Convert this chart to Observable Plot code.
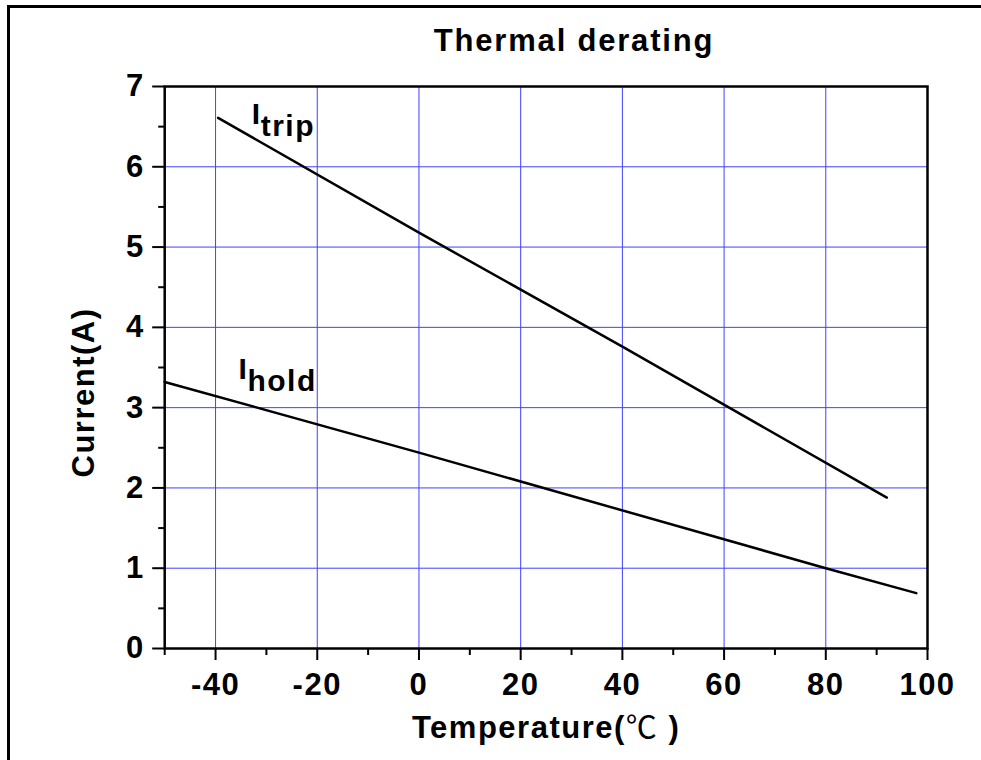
<!DOCTYPE html>
<html><head><meta charset="utf-8">
<script src="https://cdn.jsdelivr.net/npm/d3@7"></script>
<script src="https://cdn.jsdelivr.net/npm/@observablehq/plot@0.6"></script>
<style>
html,body{margin:0;padding:0;background:#fff;overflow:hidden;}
#wrap{position:relative;width:981px;height:760px;overflow:hidden;font-family:"Liberation Sans",Arial,sans-serif;background:#fff;}
.bline{position:absolute;background:#000;z-index:3;}
#bTop{left:7px;top:5px;width:974px;height:2.5px;}
#bLeft{left:7px;top:5px;width:2.5px;height:755px;}
#title{position:absolute;left:374px;width:400px;top:26px;text-align:center;font-size:31px;line-height:30px;font-weight:bold;letter-spacing:1.8px;color:#000;z-index:2;}
#chart{position:absolute;left:0;top:60px;z-index:1;}
#chart svg text{letter-spacing:1.5px;}
</style></head>
<body>
<div id="wrap">
  <div id="chart"></div>
  <div id="title">Thermal derating</div>
  <div class="bline" id="bTop"></div>
  <div class="bline" id="bLeft"></div>
</div>
<script>
// Data
const tempTrip = [-39.5, 0, 40, 92];
const currTrip = [6.61, 5.18, 3.76, 1.88];
const tempHold = [-50, 0, 80, 97.8];
const currHold = [3.32, 2.44, 1.0, 0.69];

const xMajorTicks = [-40, -20, 0, 20, 40, 60, 80, 100];
const xMinorTicks = [-50, -30, -10, 10, 30, 50, 70, 90];
const yMajorTicks = [0, 1, 2, 3, 4, 5, 6, 7];
const yMinorTicks = [0.5, 1.5, 2.5, 3.5, 4.5, 5.5, 6.5];
const xGridLines = [-40, -20, 0, 20, 40, 60, 80];
const yGridLines = [1, 2, 3, 4, 5, 6];

const labelMain = ["I", "I"];
const labelSub = ["trip", "hold"];
const labelTemp = [-32.9, -35.5];
const labelCurr = [6.657, 3.482];

const xTitle = "Temperature(℃ )";
const yTitle = "Current(A)";

const trip = tempTrip.map((t, i) => ({t, c: currTrip[i]}));
const hold = tempHold.map((t, i) => ({t, c: currHold[i]}));
const labels = labelMain.map((m, i) => ({m, s: labelSub[i], t: labelTemp[i], c: labelCurr[i]}));

const fontFamily = '"Liberation Sans", Arial, sans-serif';
const gridColor = "#4040ff";

const svg = Plot.plot({
  width: 981,
  height: 700,
  marginLeft: 164.2,
  marginRight: 54,
  marginTop: 26,
  marginBottom: 112,
  x: {domain: [-50, 100]},
  y: {domain: [0, 7]},
  style: {fontFamily, fontSize: "31px", fontWeight: "bold", color: "black", background: "transparent", overflow: "visible"},
  marks: [
    Plot.ruleX(xGridLines, {stroke: gridColor, strokeWidth: 1}),
    Plot.ruleY(yGridLines, {stroke: gridColor, strokeWidth: 1}),
    Plot.line(trip, {x: "t", y: "c", stroke: "black", strokeWidth: 2.5}),
    Plot.line(hold, {x: "t", y: "c", stroke: "black", strokeWidth: 2.5}),
    Plot.axisX(xMajorTicks, {tickSize: 12, tickPadding: 12, strokeWidth: 2, label: null, tickFormat: d => String(d), fontSize: 31, fontWeight: "bold"}),
    Plot.axisX(xMinorTicks, {tickSize: 7, strokeWidth: 2, text: null, label: null}),
    Plot.axisY(yMajorTicks, {tickSize: 12, tickPadding: 8, strokeWidth: 2, label: null, tickFormat: d => String(d), fontSize: 31, fontWeight: "bold"}),
    Plot.axisY(yMinorTicks, {tickSize: 6, strokeWidth: 2, text: null, label: null}),
    Plot.frame({stroke: "black", strokeWidth: 2.5}),
    Plot.text(labels, {x: "t", y: "c", text: "m", textAnchor: "start", lineAnchor: "middle", fontSize: 30, fontWeight: "bold"}),
    Plot.text(labels, {x: "t", y: "c", text: "s", textAnchor: "start", lineAnchor: "middle", dx: 9, dy: 12, fontSize: 30, fontWeight: "bold"}),
    Plot.text([yTitle], {text: d => d, frameAnchor: "left", textAnchor: "middle", lineAnchor: "middle", dx: -81, dy: 25, rotate: -90, fontSize: 31, fontWeight: "bold"}),
    Plot.text([xTitle], {text: d => d, frameAnchor: "bottom", textAnchor: "middle", lineAnchor: "middle", dy: 80, fontSize: 31, fontWeight: "bold"})
  ]
});

d3.select(svg).selectAll("text").filter(function() { return this.textContent === xTitle; }).each(function() {
  const t = d3.select(this);
  t.text(null);
  t.append("tspan").text("Temperature(");
  t.append("tspan").attr("font-family", '"Noto Sans CJK SC"').attr("font-weight", "normal").text("℃");
  t.append("tspan").text(" )");
});

document.getElementById("chart").appendChild(svg);
</script>
</body></html>
